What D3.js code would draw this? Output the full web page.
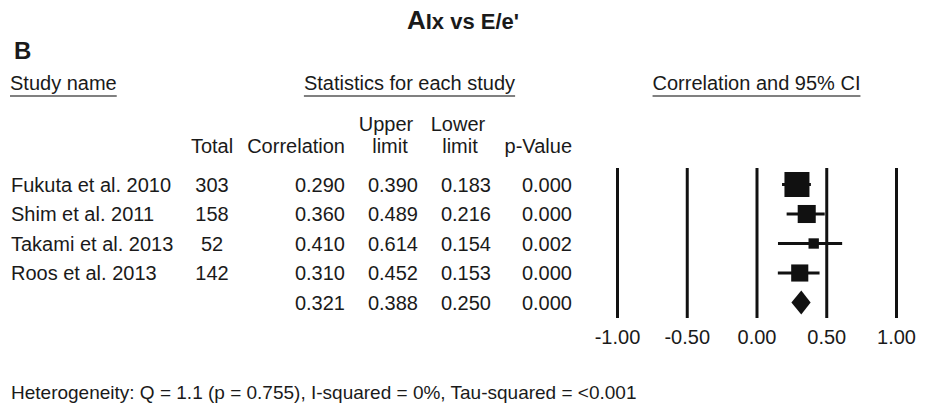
<!DOCTYPE html>
<html>
<head>
<meta charset="utf-8">
<script src="https://cdn.jsdelivr.net/npm/d3@7"></script>
<style>
  body { margin: 0; background: #fff; }
  svg { display: block; font-family: "Liberation Sans", Arial, sans-serif; }
</style>
</head>
<body>
<svg width="930" height="405"></svg>
<script>
let studies = ["Fukuta et al. 2010", "Shim et al. 2011", "Takami et al. 2013", "Roos et al. 2013"];
let totals = [303, 158, 52, 142];
let correlations = [0.29, 0.36, 0.41, 0.31];
let upperLimits = [0.39, 0.489, 0.614, 0.452];
let lowerLimits = [0.183, 0.216, 0.154, 0.153];
let pValues = [0.0, 0.0, 0.002, 0.0];

// pooled estimate
let summaryCorrelation = 0.321;
let summaryUpper = 0.388;
let summaryLower = 0.25;
let summaryP = 0.0;

let xTicks = [-1, -0.5, 0, 0.5, 1];
let heterogeneity = "Heterogeneity: Q = 1.1 (p = 0.755), I-squared = 0%, Tau-squared = <0.001";

let ink = "#1a1a1a";
let fmt = v => (+v).toFixed(3);

let rows = studies.map((s, i) => ({
  name: s,
  total: totals[i],
  r: correlations[i],
  upper: upperLimits[i],
  lower: lowerLimits[i],
  p: pValues[i]
}));
let allRows = rows.concat([{
  name: "", total: "", r: summaryCorrelation, upper: summaryUpper,
  lower: summaryLower, p: summaryP, pooled: true
}]);

let x = d3.scaleLinear().domain([-1, 1]).range([617, 896]);
let y = d3.scalePoint().domain(d3.range(allRows.length)).range([184.5, 302.5]);
let boxSize = d3.scaleSqrt().domain([0, d3.max(totals)]).range([0, 25]);

let svg = d3.select("svg");

// title
let title = svg.append("text")
  .attr("x", 463)
  .attr("y", 29)
  .attr("text-anchor", "middle")
  .style("font-weight", "bold")
  .style("fill", ink);
title.append("tspan").style("font-size", "26px").text("A");
title.append("tspan").style("font-size", "22px").text("Ix vs E/e'");

svg.append("text")
  .attr("x", 14)
  .attr("y", 59)
  .style("font-size", "24px")
  .style("font-weight", "bold")
  .style("fill", ink)
  .text("B");

// section headers, underlined
let headers = [
  { label: "Study name", x: 10, anchor: "start" },
  { label: "Statistics for each study", x: 409.5, anchor: "middle" },
  { label: "Correlation and 95% CI", x: x(0), anchor: "middle" }
];
headers.forEach(h => {
  let t = svg.append("text")
    .attr("x", h.x)
    .attr("y", 90)
    .attr("text-anchor", h.anchor)
    .style("font-size", "20px")
    .style("fill", ink)
    .text(h.label);
  let b = t.node().getBBox();
  svg.append("line")
    .attr("x1", b.x)
    .attr("x2", b.x + b.width)
    .attr("y1", 96)
    .attr("y2", 96)
    .style("stroke", "#808080")
    .style("stroke-width", 2);
});

// column headers
let colHeads = [
  { t: "Upper", x: 386, y: 131, a: "middle" },
  { t: "Lower", x: 458, y: 131, a: "middle" },
  { t: "Total", x: 212, y: 153, a: "middle" },
  { t: "Correlation", x: 345, y: 153, a: "end" },
  { t: "limit", x: 390, y: 153, a: "middle" },
  { t: "limit", x: 460, y: 153, a: "middle" },
  { t: "p-Value", x: 572, y: 153, a: "end" }
];
svg.selectAll("text.colhead")
  .data(colHeads)
  .enter()
  .append("text")
  .classed("colhead", true)
  .attr("x", d => d.x)
  .attr("y", d => d.y)
  .attr("text-anchor", d => d.a)
  .style("font-size", "20px")
  .style("fill", ink)
  .text(d => d.t);

// table body
let cols = [
  { key: "name", x: 11, a: "start", f: d => d },
  { key: "total", x: 212, a: "middle", f: d => d },
  { key: "r", x: 345, a: "end", f: fmt },
  { key: "upper", x: 418, a: "end", f: fmt },
  { key: "lower", x: 491, a: "end", f: fmt },
  { key: "p", x: 572, a: "end", f: fmt }
];

let trs = svg.selectAll("g.row")
  .data(allRows)
  .enter()
  .append("g")
  .classed("row", true)
  .attr("transform", (d, i) => "translate(0," + (y(i) + 7) + ")");

cols.forEach(c => {
  trs.append("text")
    .attr("x", c.x)
    .attr("text-anchor", c.a)
    .style("font-size", "20px")
    .style("fill", ink)
    .text(d => c.f(d[c.key]));
});

// reference lines + tick labels
let axis = d3.axisBottom(x)
  .tickValues(xTicks)
  .tickFormat(d => d.toFixed(2))
  .tickSize(-150)
  .tickPadding(12);

let axisG = svg.append("g")
  .attr("transform", "translate(0,318)")
  .call(axis);
axisG.select(".domain").remove();
axisG.selectAll(".tick line")
  .style("stroke", "#111")
  .style("stroke-width", 3);
axisG.selectAll(".tick text")
  .style("font-size", "20px")
  .style("font-family", "\"Liberation Sans\", Arial, sans-serif")
  .style("fill", ink);

// study markers
let marks = svg.selectAll("g.mark")
  .data(rows)
  .enter()
  .append("g")
  .classed("mark", true);

marks.append("line")
  .attr("x1", d => x(d.lower))
  .attr("x2", d => x(d.upper))
  .attr("y1", (d, i) => y(i))
  .attr("y2", (d, i) => y(i))
  .style("stroke", "#111")
  .style("stroke-width", 3);

marks.append("rect")
  .attr("x", d => x(d.r) - boxSize(d.total) / 2)
  .attr("y", (d, i) => y(i) - boxSize(d.total) / 2)
  .attr("width", d => boxSize(d.total))
  .attr("height", d => boxSize(d.total))
  .style("fill", "#111");

// pooled diamond
let yd = y(allRows.length - 1);
svg.append("path")
  .attr("d", `M${x(summaryLower)} ${yd} L${x(summaryCorrelation)} ${yd - 12} L${x(summaryUpper)} ${yd} L${x(summaryCorrelation)} ${yd + 12} Z`)
  .style("fill", "#111");

svg.append("text")
  .attr("x", 11)
  .attr("y", 399)
  .style("font-size", "19px")
  .style("fill", ink)
  .text(heterogeneity);
</script>
</body>
</html>
